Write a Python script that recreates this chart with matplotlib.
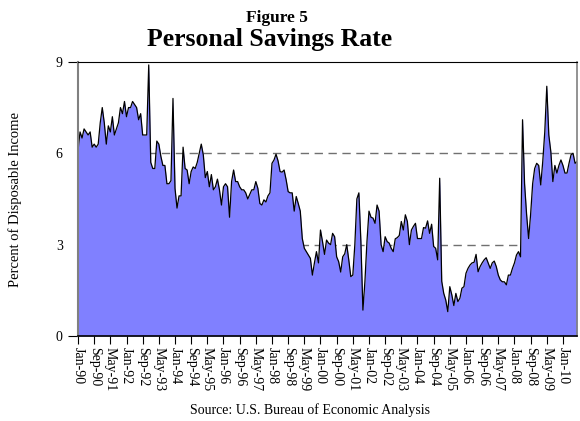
import matplotlib
matplotlib.use("Agg")
import matplotlib.pyplot as plt
import numpy as np
import pandas as pd

plt.rcParams['font.family'] = ['Liberation Serif', 'DejaVu Serif']

# Monthly personal savings rate (percent of disposable income), Jan-1990 onward
savings_rate = [
    6.1, 6.7, 6.5, 6.8, 6.7, 6.6, 6.7, 6.2, 6.3, 6.2, 6.3, 7.0,
    7.5, 7.0, 6.3, 6.9, 6.7, 7.2, 6.6, 6.8, 7.0, 7.5, 7.3, 7.7,
    7.2, 7.5, 7.5, 7.7, 7.6, 7.5, 7.1, 7.3, 6.6, 6.6, 6.6, 8.9,
    5.7, 5.5, 5.5, 6.4, 6.3, 5.9, 5.6, 5.6, 5.0, 5.0, 5.1, 7.8,
    4.85, 4.2, 4.6, 4.6, 6.2, 5.5, 5.45, 5.0, 5.4, 5.55, 5.5, 5.7,
    6.0, 6.3, 5.95, 5.2, 5.4, 4.9, 5.3, 4.8, 4.9, 5.15, 4.8, 4.3,
    4.9, 5.0, 4.9, 3.9, 5.07, 5.45, 5.07, 5.07, 4.9, 4.8, 4.8, 4.7,
    4.5, 4.65, 4.8, 4.8, 5.07, 4.85, 4.35, 4.3, 4.47, 4.4, 4.6, 4.7,
    5.67, 5.78, 5.97, 5.75, 5.4, 5.38, 5.45, 5.13, 4.74, 4.7, 4.7, 4.1,
    4.58, 4.35, 4.1, 3.2, 2.88, 2.77, 2.66, 2.55, 2.0, 2.4, 2.77, 2.4,
    3.48, 3.1, 2.68, 3.15, 3.05, 3.0, 3.37, 3.26, 2.6, 2.44, 2.1, 2.6,
    2.7, 3.0, 2.5, 1.95, 2.0, 3.0, 4.5, 4.7, 3.1, 0.85, 1.8, 3.1,
    4.1, 3.9, 3.87, 3.7, 4.3, 4.1, 3.0, 2.77, 3.26, 3.1, 3.05, 2.88,
    2.77, 3.19, 3.23, 3.3, 3.76, 3.48, 3.98, 3.76, 3.0, 3.48, 3.6, 3.7,
    3.2, 3.2, 3.2, 3.56, 3.54, 3.78, 3.37, 3.67, 2.94, 2.88, 2.5, 5.18,
    1.8, 1.4, 1.18, 0.8, 1.62, 1.35, 1.0, 1.4, 1.13, 1.24, 1.57, 1.62,
    2.06, 2.22, 2.33, 2.4, 2.42, 2.68, 2.11, 2.28, 2.4, 2.5, 2.57, 2.4,
    2.22, 2.4, 2.46, 2.28, 2.0, 1.84, 1.78, 1.78, 1.68, 2.0, 2.0, 2.22,
    2.4, 2.66, 2.77, 2.6, 7.1, 5.0, 4.0, 3.2, 4.0, 5.0, 5.5, 5.67,
    5.6, 4.96, 5.73, 6.7, 8.2, 6.6, 6.05, 5.07, 5.6, 5.35, 5.6, 5.78,
    5.6, 5.35, 5.35, 5.67, 5.95, 6.0, 5.67, 5.73,
]
dates = pd.date_range('1990-01-01', periods=len(savings_rate), freq='MS')
tick_step = 8
tick_dates = dates[::tick_step]
tick_labels = [d.strftime('%b-%y') for d in tick_dates]
ref_levels = [3, 6]

x = np.arange(len(savings_rate))

fig = plt.figure(figsize=(5.8, 4.21), dpi=100)
ax = fig.add_axes([0.1345, 0.2019, 0.995 - 0.1345, 0.853 - 0.2019])

for lvl in ref_levels:
    ax.axhline(lvl, color='#707070', lw=1.0, ls=(0, (6, 4)), zorder=0)
ax.fill_between(x, 0, savings_rate, color='#8080FF', lw=0, zorder=1)
ax.plot(x, savings_rate, color='black', lw=0.9, zorder=2)

ax.set_xlim(0, len(savings_rate) - 1)
ax.set_ylim(0, 9)
ax.set_yticks([0, 9])
ax.set_yticks([3, 6], minor=True)
ax.set_yticklabels(['0', '9'])
ax.set_yticklabels(['3', '6'], minor=True)
ax.tick_params(axis='y', which='major', length=7, color='black', labelsize=10, pad=4)
ax.tick_params(axis='y', which='minor', length=0, labelsize=10, pad=11)

ax.set_xticks(x[::tick_step])
ax.set_xticklabels(tick_labels, rotation=270, fontsize=10)
ax.tick_params(axis='x', length=6, color='black', pad=2)

ax.spines['left'].set_color('#808080')
ax.spines['left'].set_linewidth(1.5)
ax.spines['right'].set_color('#808080')
ax.spines['right'].set_linewidth(1.2)
ax.spines['top'].set_color('black')
ax.spines['bottom'].set_color('black')
ax.spines['bottom'].set_linewidth(1.2)

fig.text(0.026, 0.525, 'Percent of Disposable Income', rotation=90,
         ha='center', va='center', fontsize=10.5)
fig.text(0.477, 0.958, 'Figure 5', ha='center', va='center', fontsize=12.5, fontweight='bold')
fig.text(0.465, 0.905, 'Personal Savings Rate', ha='center', va='center', fontsize=18.5, fontweight='bold')
fig.text(0.535, 0.026, 'Source: U.S. Bureau of Economic Analysis', ha='center', va='center', fontsize=10)

fig.savefig('out.png', dpi=100)
